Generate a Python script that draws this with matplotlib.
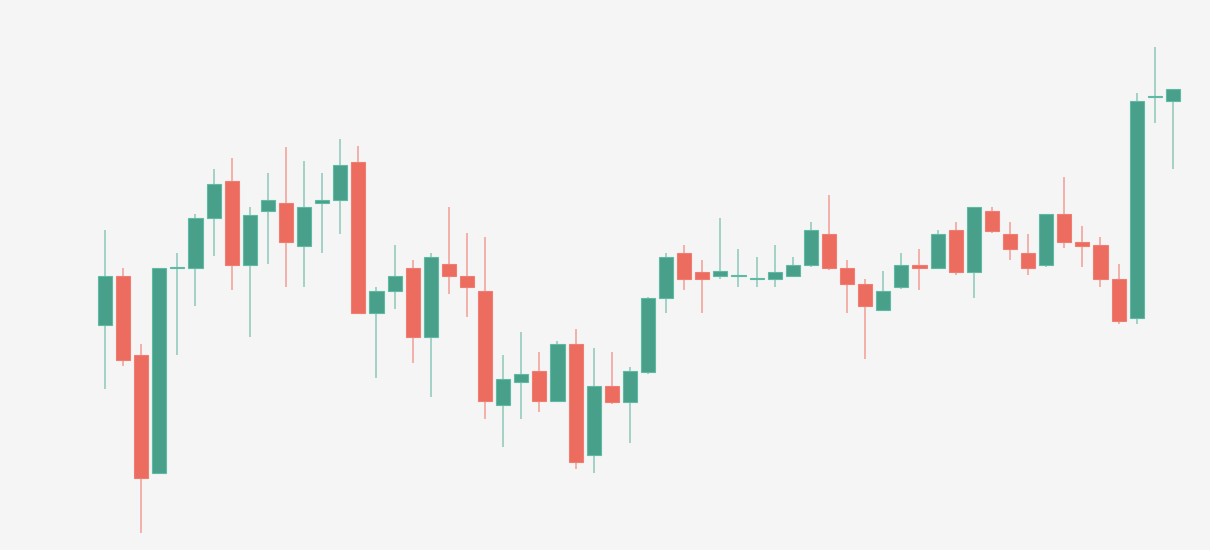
import numpy as np
import matplotlib
matplotlib.use("Agg")
from matplotlib import pyplot as plt

# OHLC data (arbitrary price units)
opens = [225, 274, 195, 77, 282, 282, 332, 369, 285, 339,
         347, 304, 347, 350, 388, 237, 259, 282, 213, 286,
         274, 259, 145, 168, 179, 149, 206, 95, 164, 148,
         178, 252, 297, 278, 274, 274, 271, 271, 274, 285,
         316, 282, 266, 240, 263, 285, 282, 320, 278, 339,
         316, 297, 285, 336, 308, 305, 271, 232, 453, 449]
highs = [320, 282, 206, 282, 297, 336, 381, 392, 343, 377,
         403, 389, 377, 411, 404, 263, 305, 290, 297, 343,
         317, 313, 195, 218, 198, 209, 221, 202, 198, 183,
         253, 297, 305, 290, 332, 301, 293, 305, 293, 328,
         355, 290, 271, 279, 297, 301, 320, 328, 343, 343,
         328, 316, 336, 373, 324, 313, 286, 457, 503, 461]
lows = [161, 184, 17, 76, 195, 244, 294, 260, 213, 286,
        263, 263, 297, 316, 237, 172, 241, 187, 153, 256,
        233, 131, 103, 131, 138, 149, 81, 77, 146, 107,
        176, 237, 260, 237, 271, 263, 263, 263, 274, 283,
        280, 237, 191, 240, 261, 260, 282, 275, 252, 317,
        290, 275, 283, 302, 283, 263, 226, 226, 427, 381]
closes = [274, 190, 72, 282, 282, 332, 366, 285, 335, 350,
          308, 343, 350, 385, 237, 259, 274, 213, 293, 274,
          263, 149, 171, 176, 149, 206, 88, 164, 148, 179,
          252, 293, 271, 271, 279, 274, 271, 278, 285, 320,
          282, 266, 244, 259, 285, 282, 316, 278, 343, 319,
          301, 282, 336, 308, 304, 271, 229, 449, 453, 461]

up_col = '#48a08b'
down_col = '#ec6c60'
up_wick = '#9dcfc3'
down_wick = '#f2aaa2'

o = np.array(opens, dtype=float)
h = np.array(highs, dtype=float)
l = np.array(lows, dtype=float)
c = np.array(closes, dtype=float)
x = np.arange(len(o))
up = c >= o

fig = plt.figure(figsize=(12.1, 5.5), dpi=100, facecolor='#f5f5f5')
ax = fig.add_axes([0, 0, 1, 1])
ax.set_facecolor('#f5f5f5')

# wicks
ax.vlines(x[up], l[up], h[up], color=up_wick, linewidth=1.3, zorder=1)
ax.vlines(x[~up], l[~up], h[~up], color=down_wick, linewidth=1.3, zorder=1)

# bodies
bottom = np.minimum(o, c)
height = np.maximum(np.abs(c - o), 1.5)
ax.bar(x[up], height[up], bottom=bottom[up], width=0.78, color=up_col,
       edgecolor='#5dbba5', linewidth=0.8, zorder=2)
ax.bar(x[~up], height[~up], bottom=bottom[~up], width=0.78, color=down_col,
       edgecolor='#f07d72', linewidth=0.8, zorder=2)

ax.set_xlim(-105 / 18.1, (1210 - 105) / 18.1)
ax.set_ylim(0, 550)
ax.axis('off')

fig.savefig('out.png', dpi=100, facecolor=fig.get_facecolor())
